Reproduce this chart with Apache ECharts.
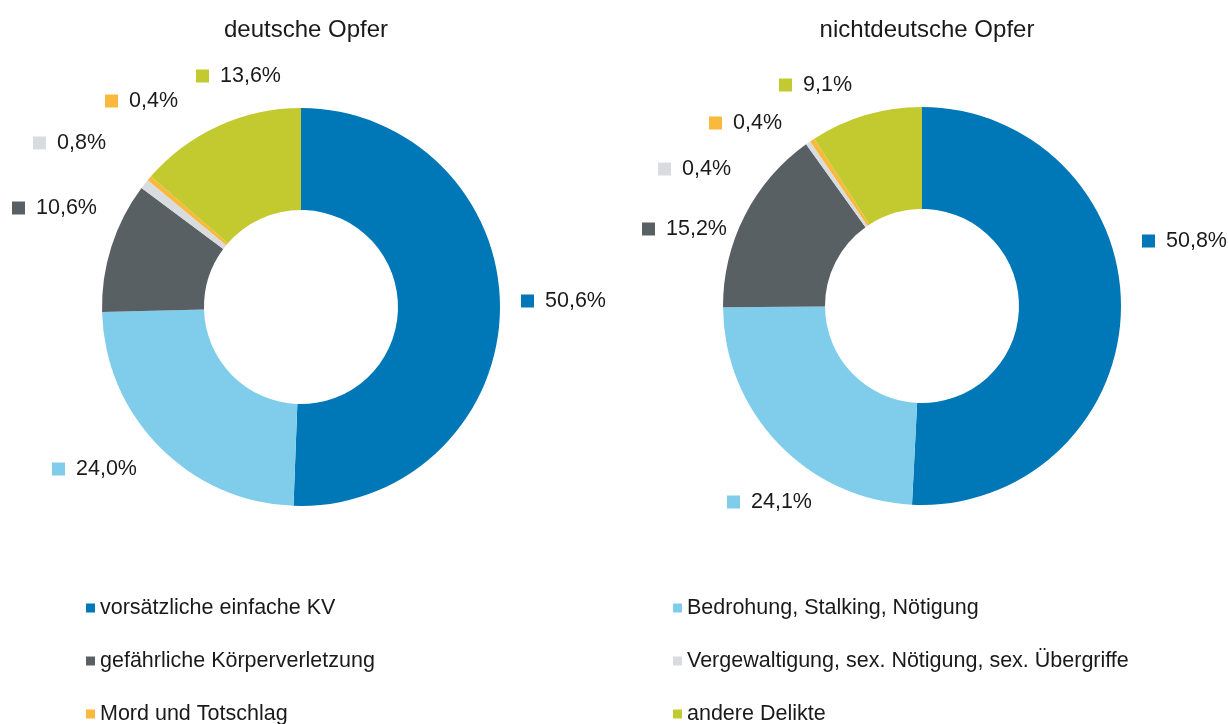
<!DOCTYPE html>
<html>
<head>
<meta charset="utf-8">
<script src="https://cdn.jsdelivr.net/npm/echarts@6/dist/echarts.min.js"></script>
<style>
  html, body { margin: 0; padding: 0; background: #fff; }
  #chart { width: 1228px; height: 724px; }
</style>
</head>
<body>
<div id="chart"></div>
<script>
// Kategorien und Anteile (in %)
const categories = [
  'vorsätzliche einfache KV',
  'Bedrohung, Stalking, Nötigung',
  'gefährliche Körperverletzung',
  'Vergewaltigung, sex. Nötigung, sex. Übergriffe',
  'Mord und Totschlag',
  'andere Delikte'
]
const deutscheOpfer = [50.6, 24.0, 10.6, 0.8, 0.4, 13.6]
const nichtdeutscheOpfer = [50.8, 24.1, 15.2, 0.4, 0.4, 9.1]
const chartTitles = ['deutsche Opfer', 'nichtdeutsche Opfer']

const colors = ['#0077b6', '#7fcdeb', '#586064', '#d9dcdf', '#f8b93c', '#c3ca30']
const fontFamily = '"Liberation Sans", Arial, sans-serif'

// Label-Positionen (linke Kante des Markers, vertikale Mitte)
const labelPos = [
  [[521, 301], [52, 469], [12, 208], [33, 143], [105, 101], [196, 76]],
  [[1142, 241], [727, 502], [642, 229], [658, 169], [709, 123], [779, 85]]
]

const rich = { t: { fontSize: 21.5, color: '#1a1a1a', fontFamily, padding: [0, 0, 0, 11] } }
colors.forEach((c, i) => {
  rich['m' + i] = { backgroundColor: c, width: 13, height: 13 }
})

const fmt = v => v.toFixed(1).replace('.', ',') + '%'

const makeSeries = (values, idx, center) => ({
  type: 'pie',
  name: chartTitles[idx],
  center: center,
  radius: [97, 199],
  startAngle: 90,
  clockwise: true,
  avoidLabelOverlap: false,
  data: values.map((v, i) => ({ name: categories[i], value: v })),
  label: {
    show: true,
    position: 'outside',
    formatter: p => '{m' + p.dataIndex + '|}{t|' + fmt(p.value) + '}',
    rich: rich
  },
  labelLine: { show: false },
  labelLayout: p => ({
    x: labelPos[idx][p.dataIndex][0],
    y: labelPos[idx][p.dataIndex][1],
    align: 'left',
    verticalAlign: 'middle'
  }),
  emphasis: { disabled: true }
})

const legendBase = {
  orient: 'vertical', top: 592, height: 200,
  icon: 'rect', itemWidth: 9, itemHeight: 9, itemGap: 31,
  textStyle: { fontSize: 21.5, color: '#1a1a1a', fontFamily, lineHeight: 20 },
  selectedMode: false
}

const chart = echarts.init(document.getElementById('chart'))
chart.setOption({
  backgroundColor: '#fff',
  color: colors,
  animation: false,
  title: [
    { text: chartTitles[0], left: 301, top: 13, textAlign: 'center',
      textStyle: { fontSize: 24, fontWeight: 'normal', color: '#1a1a1a', fontFamily } },
    { text: chartTitles[1], left: 922, top: 13, textAlign: 'center',
      textStyle: { fontSize: 24, fontWeight: 'normal', color: '#1a1a1a', fontFamily } }
  ],
  legend: [
    Object.assign({}, legendBase, { left: 81, data: [categories[0], categories[2], categories[4]] }),
    Object.assign({}, legendBase, { left: 668, data: [categories[1], categories[3], categories[5]] })
  ],
  series: [
    makeSeries(deutscheOpfer, 0, [301, 307]),
    makeSeries(nichtdeutscheOpfer, 1, [922, 306])
  ]
})
</script>
</body>
</html>
